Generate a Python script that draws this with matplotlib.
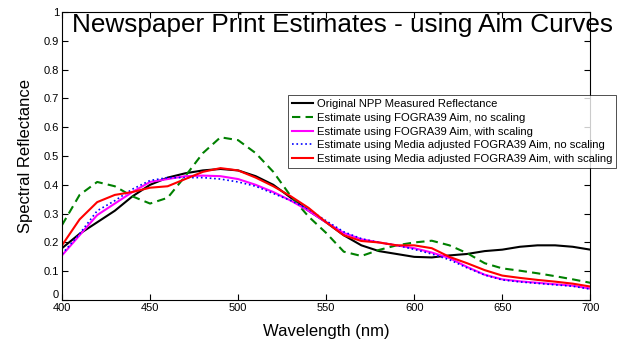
import numpy as np
import matplotlib.pyplot as plt

plt.rcParams['font.family'] = ['Liberation Sans', 'DejaVu Sans']

wl = np.arange(400, 701, 10)

original = [0.18, 0.23, 0.27, 0.31, 0.36, 0.40, 0.425, 0.44, 0.45, 0.455, 0.45,
            0.43, 0.40, 0.355, 0.31, 0.27, 0.225, 0.19, 0.17, 0.16, 0.15,
            0.148, 0.155, 0.16, 0.17, 0.175, 0.185, 0.19, 0.19, 0.185, 0.175]
fogra_noscale = [0.26, 0.365, 0.41, 0.395, 0.36, 0.335, 0.355, 0.43, 0.51, 0.565, 0.555,
                 0.51, 0.445, 0.36, 0.29, 0.233, 0.168, 0.153, 0.174, 0.19, 0.2,
                 0.206, 0.19, 0.163, 0.128, 0.11, 0.102, 0.093, 0.083, 0.072, 0.06]
fogra_scale = [0.155, 0.225, 0.295, 0.335, 0.375, 0.41, 0.42, 0.43, 0.432, 0.43, 0.42,
               0.40, 0.375, 0.345, 0.31, 0.27, 0.233, 0.211, 0.2, 0.19, 0.18,
               0.165, 0.146, 0.115, 0.088, 0.072, 0.065, 0.06, 0.055, 0.05, 0.04]
media_noscale = [0.16, 0.23, 0.31, 0.345, 0.385, 0.415, 0.425, 0.425, 0.425, 0.42, 0.41,
                 0.395, 0.37, 0.345, 0.315, 0.275, 0.237, 0.213, 0.2, 0.19, 0.176,
                 0.16, 0.14, 0.112, 0.087, 0.07, 0.063, 0.058, 0.053, 0.048, 0.038]
media_scale = [0.19, 0.28, 0.34, 0.365, 0.375, 0.39, 0.395, 0.42, 0.445, 0.458, 0.45,
               0.425, 0.395, 0.36, 0.32, 0.27, 0.225, 0.205, 0.2, 0.19, 0.19,
               0.18, 0.15, 0.128, 0.104, 0.085, 0.077, 0.07, 0.064, 0.057, 0.047]

labels = ['Original NPP Measured Reflectance',
          'Estimate using FOGRA39 Aim, no scaling',
          'Estimate using FOGRA39 Aim, with scaling',
          'Estimate using Media adjusted FOGRA39 Aim, no scaling',
          'Estimate using Media adjusted FOGRA39 Aim, with scaling']

fig = plt.figure(figsize=(6.26, 3.41), dpi=100)
ax = fig.add_axes([0.099, 0.12, 0.844, 0.845])

ax.plot(wl, original, color='black', lw=1.5, label=labels[0])
ax.plot(wl, fogra_noscale, color='#008000', lw=1.5, ls=(0, (4, 2.5)), label=labels[1])
ax.plot(wl, fogra_scale, color='magenta', lw=1.5, label=labels[2])
ax.plot(wl, media_noscale, color='blue', lw=1.2, ls=':', label=labels[3])
ax.plot(wl, media_scale, color='red', lw=1.5, label=labels[4])

ax.set_xlim(400, 700)
ax.set_ylim(0, 1)
ax.set_xticks(np.arange(400, 701, 50))
ax.set_yticks(np.arange(0, 1.01, 0.1))
ax.set_yticklabels(['0', '0.1', '0.2', '0.3', '0.4', '0.5', '0.6', '0.7', '0.8', '0.9', '1'])
ax.tick_params(direction='in', labelsize=8, length=4, top=True, right=True, pad=2)
ax.get_yticklabels()[0].set_va('bottom')
for s in ax.spines.values():
    s.set_linewidth(0.8)

ax.set_xlabel('Wavelength (nm)', fontsize=12, labelpad=8)
ax.set_ylabel('Spectral Reflectance', fontsize=12, labelpad=8)
fig.text(0.547, 0.928, 'Newspaper Print Estimates - using Aim Curves',
         ha='center', va='center', fontsize=18.8)

leg = ax.legend(loc='upper left', bbox_to_anchor=(0.46, 0.72), bbox_transform=fig.transFigure,
                fontsize=8.1, frameon=True, fancybox=False, handlelength=1.9,
                handletextpad=0.3, borderpad=0.35, labelspacing=0.32, borderaxespad=0)
leg.get_frame().set_edgecolor('black')
leg.get_frame().set_linewidth(0.6)

fig.savefig('out.png', dpi=100)
